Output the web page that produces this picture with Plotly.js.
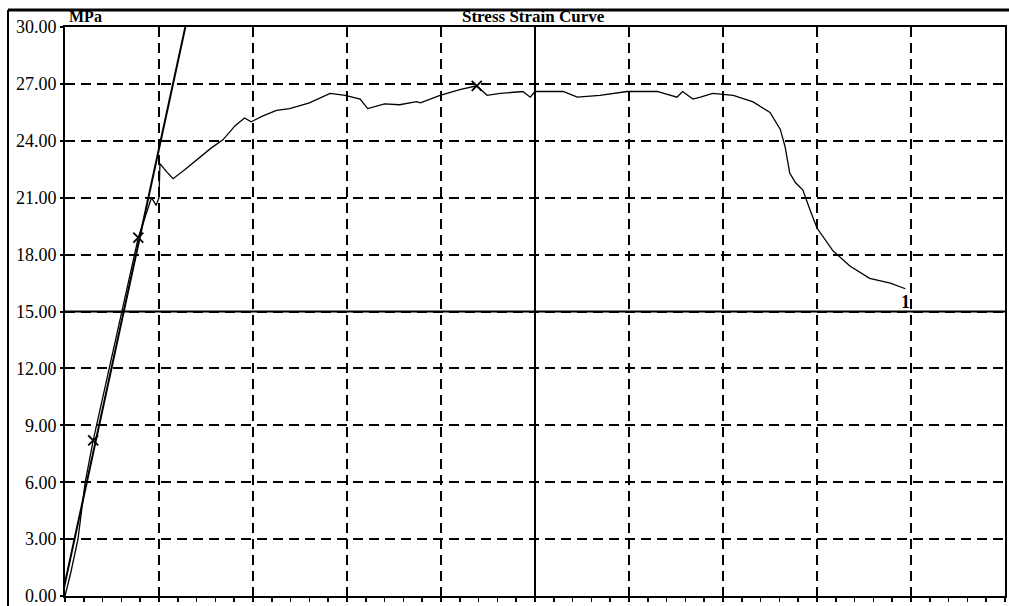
<!DOCTYPE html>
<html>
<head>
<meta charset="utf-8">
<script src="https://cdn.plot.ly/plotly-3.0.1.min.js"></script>
<style>html,body{margin:0;padding:0;background:#fff;}#chart{width:1009px;height:606px;}</style>
</head>
<body>
<div id="chart"></div>
<script>
// Stress-strain curve (x in grid divisions of strain, y in MPa)
var strainX = [0, 0.06, 0.138, 0.215, 0.30, 0.54, 0.78, 0.92, 0.97, 1.0, 1.01, 1.085, 1.15, 1.28, 1.40, 1.55, 1.68, 1.81, 1.91, 1.98, 2.10, 2.25, 2.39, 2.6, 2.82, 2.98, 3.14, 3.22, 3.4, 3.56, 3.74, 3.78, 3.99, 4.2, 4.38, 4.49, 4.63, 4.87, 4.95, 5.0, 5.3, 5.45, 5.69, 5.98, 6.3, 6.51, 6.57, 6.68, 6.76, 6.89, 7.11, 7.32, 7.5, 7.61, 7.66, 7.71, 7.77, 7.85, 7.93, 8.0, 8.17, 8.35, 8.56, 8.78, 8.94];
var stressY = [0, 1.2, 3.0, 6.0, 8.2, 13.5, 18.9, 21.0, 20.6, 21.0, 22.8, 22.35, 22.0, 22.5, 23.0, 23.6, 24.05, 24.8, 25.2, 25.0, 25.3, 25.6, 25.7, 26.0, 26.5, 26.4, 26.2, 25.7, 25.95, 25.9, 26.06, 26.0, 26.4, 26.7, 26.9, 26.4, 26.5, 26.6, 26.3, 26.6, 26.6, 26.3, 26.4, 26.6, 26.6, 26.3, 26.6, 26.2, 26.3, 26.5, 26.4, 26.05, 25.5, 24.6, 23.7, 22.3, 21.8, 21.4, 20.3, 19.4, 18.2, 17.4, 16.75, 16.5, 16.2];
// Modulus (fit) line
var fitX = [-0.03, 1.28];
var fitY = [0, 30];
// Marked points
var markX = [0.30, 0.78, 4.38];
var markY = [8.2, 18.9, 26.9];
// Text
var chartTitle = "Stress Strain Curve";
var unitLabel = "MPa";
var curveLabel = "1";
var yTickVals = [0, 3, 6, 9, 12, 15, 18, 21, 24, 27, 30];

var serif = '"Liberation Serif", "Times New Roman", serif';

var traces = [
  {x: fitX, y: fitY, mode: 'lines', line: {color: '#000', width: 2}, hoverinfo: 'skip'},
  {x: strainX, y: stressY, mode: 'lines', line: {color: '#000', width: 1.3}},
  {x: markX, y: markY, mode: 'markers', marker: {symbol: 'x-thin-open', size: 10, color: '#000', line: {color: '#000', width: 1.8}}}
];

var W = 1009, H = 606, L = 65, R = 4, T = 27, B = 10;
var pw = W - L - R, ph = H - T - B;
function px2paperX(p){ return (p - L) / pw; }
function px2paperY(p){ return (H - B - p) / ph; }

var layout = {
  width: W, height: H,
  margin: {l: L, r: R, t: T, b: B, pad: 0},
  paper_bgcolor: '#fff', plot_bgcolor: '#fff',
  showlegend: false,
  font: {family: serif, color: '#000'},
  xaxis: {
    range: [0, 10], dtick: 1, tick0: 0,
    showgrid: true, gridcolor: '#000', gridwidth: 2, griddash: '10px,6px',
    showline: true, linecolor: '#000', linewidth: 2, mirror: true,
    ticks: 'outside', ticklen: 4, tickwidth: 2, tickcolor: '#000',
    minor: {dtick: 0.2, ticks: 'outside', ticklen: 4, tickwidth: 1.5, tickcolor: '#000', showgrid: false},
    showticklabels: false, zeroline: false, fixedrange: true
  },
  yaxis: {
    range: [0, 30], tickvals: yTickVals, tickformat: '.2f',
    showgrid: true, gridcolor: '#000', gridwidth: 2, griddash: '10px,6px',
    showline: true, linecolor: '#000', linewidth: 2, mirror: true,
    ticks: 'outside', ticklen: 3, tickwidth: 2, tickcolor: '#000',
    tickfont: {family: serif, size: 18, color: '#000'},
    ticklabeloverflow: 'allow',
    zeroline: false, fixedrange: true
  },
  shapes: [
    {type: 'line', xref: 'x', yref: 'paper', x0: 5, x1: 5, y0: 0, y1: 1, line: {color: '#000', width: 2}, layer: 'below'},
    {type: 'line', xref: 'paper', yref: 'y', x0: 0, x1: 1, y0: 15, y1: 15, line: {color: '#000', width: 2}, layer: 'below'},
    {type: 'line', xref: 'paper', yref: 'paper', x0: px2paperX(8), x1: px2paperX(1009), y0: px2paperY(10), y1: px2paperY(10), line: {color: '#000', width: 3}},
    {type: 'line', xref: 'paper', yref: 'paper', x0: px2paperX(8), x1: px2paperX(8), y0: px2paperY(10), y1: px2paperY(606), line: {color: '#000', width: 2}}
  ],
  annotations: [
    {text: chartTitle, xref: 'paper', yref: 'paper', x: px2paperX(533), y: px2paperY(16), xanchor: 'center', yanchor: 'middle', showarrow: false, font: {family: serif, size: 17, color: '#000', weight: 'bold'}},
    {text: unitLabel, xref: 'paper', yref: 'paper', x: px2paperX(67), y: px2paperY(17), xanchor: 'left', yanchor: 'middle', showarrow: false, font: {family: serif, size: 16, color: '#000', weight: 'bold'}},
    {text: curveLabel, xref: 'x', yref: 'y', x: strainX[strainX.length - 1], y: stressY[stressY.length - 1], xanchor: 'center', yanchor: 'top', yshift: -1, showarrow: false, font: {family: serif, size: 18, color: '#000', weight: 'bold'}}
  ]
};

Plotly.newPlot('chart', traces, layout, {displayModeBar: false, staticPlot: true});
</script>
</body>
</html>
